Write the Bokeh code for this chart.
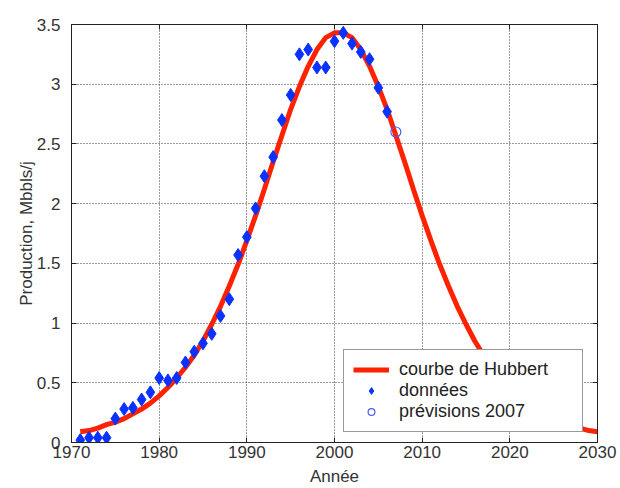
from bokeh.plotting import figure
from bokeh.models import LinearAxis, Legend, LegendItem, FixedTicker, Range1d
from bokeh.embed import file_html
from bokeh.resources import INLINE

# Hubbert curve, years 1971..2030
curve_years = list(range(1971, 2031))
curve_left = [0.09, 0.10, 0.12, 0.15, 0.17, 0.20, 0.24, 0.28, 0.33, 0.39,
              0.46, 0.54, 0.63, 0.73, 0.85, 0.99, 1.14, 1.31, 1.49, 1.69,
              1.90, 2.12, 2.35, 2.57, 2.79, 2.98, 3.15, 3.29, 3.39, 3.43]
curve_values = curve_left + curve_left[::-1]

# Observed data
data_years = list(range(1971, 2007))
data_values = [0.02, 0.04, 0.04, 0.04, 0.20, 0.28, 0.29, 0.36, 0.42, 0.54,
               0.52, 0.54, 0.67, 0.76, 0.83, 0.91, 1.06, 1.20, 1.57, 1.72,
               1.96, 2.23, 2.39, 2.70, 2.91, 3.25, 3.29, 3.14, 3.14, 3.36,
               3.43, 3.34, 3.27, 3.21, 2.97, 2.77]

# 2007 forecast
forecast_years = [2007]
forecast_values = [2.60]

x_ticks = [1970, 1980, 1990, 2000, 2010, 2020, 2030]
y_ticks = [0, 0.5, 1, 1.5, 2, 2.5, 3, 3.5]

FONT = "Liberation Sans"
TXT = "#333333"

p = figure(width=620, height=488, output_backend="svg", toolbar_location=None,
           x_range=Range1d(1970, 2030), y_range=Range1d(0, 3.5),
           min_border_left=71, min_border_right=23, min_border_top=24,
           min_border_bottom=45, x_axis_label="Année",
           y_axis_label="Production, Mbbls/j")

p.outline_line_color = "#222222"
p.outline_line_width = 1

for ax in (p.xaxis[0], p.yaxis[0]):
    ax.major_label_text_font = FONT
    ax.major_label_text_font_size = "17px"
    ax.major_label_text_color = TXT
    ax.axis_label_text_font = FONT
    ax.axis_label_text_font_size = "17px"
    ax.axis_label_text_font_style = "normal"
    ax.axis_label_text_color = TXT
    ax.major_tick_in = 5
    ax.major_tick_out = 0
    ax.minor_tick_line_color = None
    ax.axis_line_color = "#222222"
    ax.major_tick_line_color = "#222222"

p.xaxis[0].ticker = FixedTicker(ticks=x_ticks)
p.yaxis[0].ticker = FixedTicker(ticks=y_ticks)
p.yaxis[0].major_label_overrides = {0: "0", 0.5: "0.5", 1: "1", 1.5: "1.5", 2: "2",
                                    2.5: "2.5", 3: "3", 3.5: "3.5"}
p.xaxis[0].major_label_standoff = 3
p.yaxis[0].major_label_standoff = 11
p.xaxis[0].axis_label_standoff = 6
p.yaxis[0].axis_label_standoff = -2

# Right & top axes: ticks only
for loc, tick in (("right", y_ticks), ("above", x_ticks)):
    a = LinearAxis(ticker=FixedTicker(ticks=tick))
    a.major_label_text_font_size = "0px"
    a.major_label_text_alpha = 0
    a.major_tick_in = 5
    a.major_tick_out = 0
    a.minor_tick_line_color = None
    a.axis_line_color = "#222222"
    a.major_tick_line_color = "#222222"
    a.major_label_standoff = 0
    p.add_layout(a, loc)

for g in (p.xgrid[0], p.ygrid[0]):
    g.grid_line_color = "#222222"
    g.grid_line_dash = "1 2"
    g.grid_line_alpha = 0.9
p.xgrid[0].ticker = FixedTicker(ticks=x_ticks)
p.ygrid[0].ticker = FixedTicker(ticks=y_ticks)

r_line = p.line(curve_years, curve_values, line_color="#ff2200", line_width=5)
r_data = p.scatter(data_years, data_values, marker="diamond", size=13,
                   fill_color="#0a32ff", line_color="#0a32ff")
r_fc = p.scatter(forecast_years, forecast_values, marker="circle", size=10,
                 fill_color=None, line_color="#4a5cff", line_width=1.2)

legend = Legend(items=[
    LegendItem(label="courbe de Hubbert", renderers=[r_line]),
    LegendItem(label="données", renderers=[r_data]),
    LegendItem(label="prévisions 2007", renderers=[r_fc]),
], location=(272, 10))
legend.label_text_font = FONT
legend.label_text_font_size = "18px"
legend.label_text_color = "#222222"
legend.label_height = 17
legend.glyph_height = 17
legend.glyph_width = 36
legend.label_width = 174
legend.spacing = 0
legend.padding = 9
legend.margin = 0
legend.label_standoff = 10
legend.border_line_color = "#333333"
legend.border_line_width = 1
legend.background_fill_alpha = 1
p.add_layout(legend, "center")

open("out.html", "w").write(file_html(p, INLINE))
